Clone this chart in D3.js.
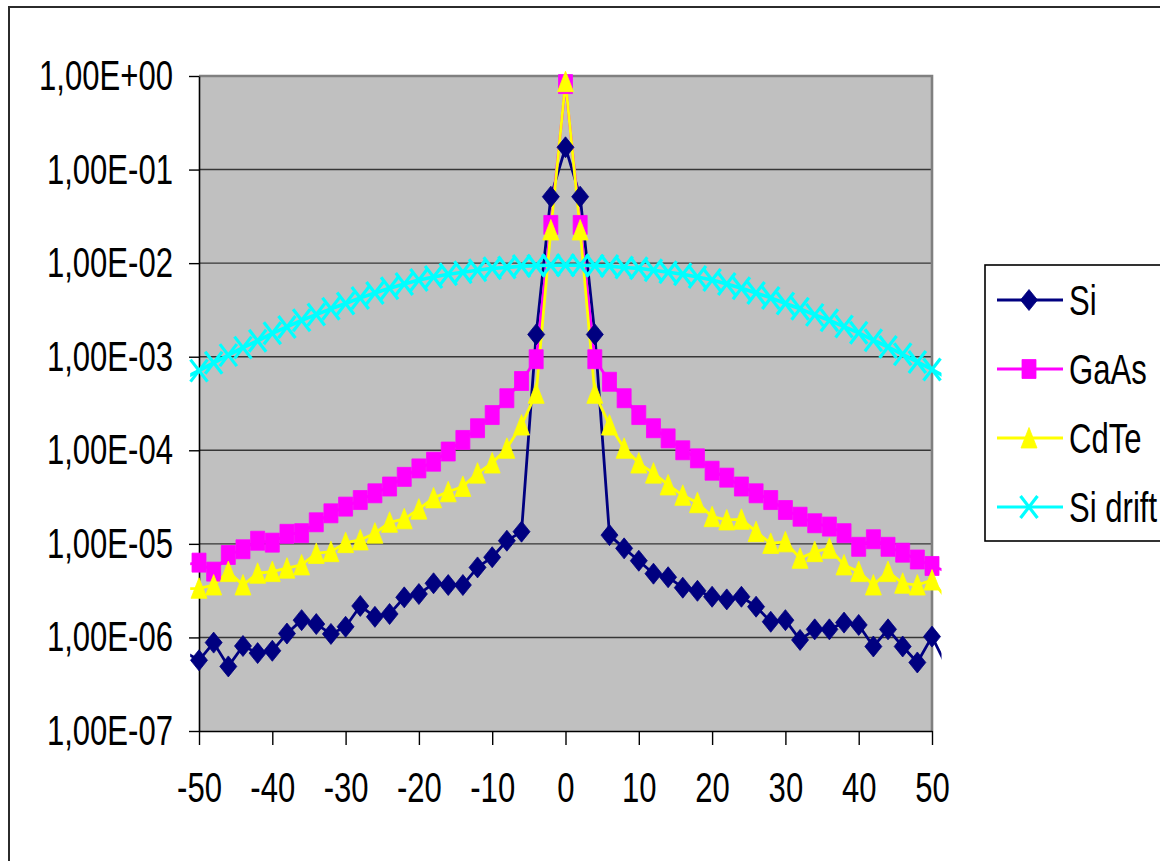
<!DOCTYPE html>
<html><head><meta charset="utf-8">
<script src="https://cdn.jsdelivr.net/npm/d3@7"></script>
<style>body{margin:0;background:#fff;overflow:hidden}</style>
</head><body><svg id="c" width="1160" height="861"></svg>
<script>
// ---- data ----
const xValues = [-52,-50,-48,-46,-44,-42,-40,-38,-36,-34,-32,-30,-28,-26,-24,-22,-20,-18,-16,-14,-12,-10,-8,-6,-4,-2,0,2,4,6,8,10,12,14,16,18,20,22,24,26,28,30,32,34,36,38,40,42,44,46,48,50,52];
const siValues = [7.0e-7,5.7e-7,8.8e-7,4.9e-7,8.1e-7,6.8e-7,7.2e-7,1.1e-6,1.53e-6,1.39e-6,1.09e-6,1.30e-6,2.17e-6,1.66e-6,1.78e-6,2.68e-6,2.91e-6,3.79e-6,3.63e-6,3.63e-6,5.6e-6,7.2e-6,1.08e-5,1.35e-5,1.73e-3,5.13e-2,1.73e-1,5.13e-2,1.73e-3,1.24e-5,8.95e-6,6.6e-6,4.8e-6,4.4e-6,3.4e-6,3.15e-6,2.72e-6,2.55e-6,2.72e-6,2.13e-6,1.47e-6,1.53e-6,9.4e-7,1.22e-6,1.22e-6,1.44e-6,1.36e-6,8.0e-7,1.22e-6,8.0e-7,5.4e-7,1.02e-6,4.9e-7];
const gaasValues = [6.0e-6,6.3e-6,5.05e-6,7.6e-6,8.75e-6,1.08e-5,1.03e-5,1.28e-5,1.3e-5,1.7e-5,2.12e-5,2.5e-5,2.94e-5,3.47e-5,4.1e-5,5.2e-5,6.4e-5,7.55e-5,9.7e-5,1.29e-4,1.72e-4,2.38e-4,3.6e-4,5.5e-4,9.4e-4,2.56e-2,0.82,2.56e-2,9.4e-4,5.4e-4,3.6e-4,2.38e-4,1.72e-4,1.34e-4,1.0e-4,8.2e-5,6.05e-5,5.1e-5,4.1e-5,3.47e-5,2.94e-5,2.3e-5,1.95e-5,1.66e-5,1.53e-5,1.3e-5,9.3e-6,1.12e-5,9.3e-6,8.05e-6,6.8e-6,5.8e-6,5.05e-6];
const cdteValues = [3.3e-6,3.35e-6,3.63e-6,5.05e-6,3.63e-6,4.85e-6,5.05e-6,5.5e-6,5.95e-6,7.9e-6,8.25e-6,1.03e-5,1.1e-5,1.3e-5,1.7e-5,1.85e-5,2.35e-5,3.1e-5,3.6e-5,4.1e-5,5.7e-5,7.3e-5,1.05e-4,1.86e-4,4.06e-4,2.26e-2,0.87,2.26e-2,4.06e-4,1.86e-4,1.05e-4,7.3e-5,5.7e-5,4.26e-5,3.3e-5,2.75e-5,1.95e-5,1.8e-5,1.83e-5,1.35e-5,1.01e-5,1.05e-5,7.0e-6,8.25e-6,8.95e-6,5.95e-6,5.05e-6,3.63e-6,5.05e-6,3.79e-6,3.63e-6,4.1e-6,2.57e-6];
const siDriftValues = [5.9e-4,7.1e-4,8.6e-4,1.04e-3,1.25e-3,1.48e-3,1.78e-3,2.08e-3,2.45e-3,2.82e-3,3.25e-3,3.7e-3,4.25e-3,4.8e-3,5.4e-3,6.0e-3,6.6e-3,7.1e-3,7.6e-3,8.0e-3,8.4e-3,8.8e-3,9.0e-3,9.3e-3,9.4e-3,9.5e-3,9.5e-3,9.5e-3,9.4e-3,9.3e-3,9.0e-3,8.8e-3,8.4e-3,8.0e-3,7.6e-3,7.1e-3,6.6e-3,6.0e-3,5.4e-3,4.8e-3,4.25e-3,3.7e-3,3.25e-3,2.8e-3,2.45e-3,2.1e-3,1.8e-3,1.5e-3,1.27e-3,1.06e-3,8.8e-4,7.3e-4,6.0e-4];
const seriesNames = ["Si","GaAs","CdTe","Si drift"];
const yTickValues = [1,1e-1,1e-2,1e-3,1e-4,1e-5,1e-6,1e-7];
const yTickLabels = ["1,00E+00","1,00E-01","1,00E-02","1,00E-03","1,00E-04","1,00E-05","1,00E-06","1,00E-07"];
const xTickValues = [-50,-40,-30,-20,-10,0,10,20,30,40,50];
const xTickLabels = ["-50","-40","-30","-20","-10","0","10","20","30","40","50"];

// ---- layout / style ----
const FONT = "'Liberation Sans', Arial, sans-serif";
const FS = 42, SX = 0.74;
const box = {left:199, top:76, right:932, bottom:731};
const styles = [
  {color:"#000080", marker:"diamond", lw:2.8},
  {color:"#FF00FF", marker:"square", lw:2.8},
  {color:"#FFFF00", marker:"triangle", lw:2.8},
  {color:"#00FFFF", marker:"x", lw:3.6}
];
const seriesValues = [siValues, gaasValues, cdteValues, siDriftValues];

const svg = d3.select("#c");
const x = d3.scaleLinear().domain([-50,50]).range([box.left, box.right]);
const y = d3.scaleLog().domain([1e-7,1]).range([box.bottom, box.top]);

// outer chart border
svg.append("rect").attr("x",9).attr("y",7).attr("width",1300).attr("height",1000)
  .attr("fill","#fff").attr("stroke","#2b2b2b").attr("stroke-width",2);

// plot area
svg.append("rect").attr("x",box.left).attr("y",box.top)
  .attr("width",box.right-box.left).attr("height",box.bottom-box.top)
  .attr("fill","#C0C0C0");

// gridlines
svg.append("g").selectAll("line").data(yTickValues.slice(0,-1)).join("line")
  .attr("x1",box.left).attr("x2",box.right)
  .attr("y1",d=>y(d)).attr("y2",d=>y(d))
  .attr("stroke","#363636").attr("stroke-width",1.4);

// plot border (top / right)
svg.append("path")
  .attr("d",`M${box.left},${box.top}H${box.right}V${box.bottom}`)
  .attr("fill","none").attr("stroke","#808080").attr("stroke-width",2.6);

// axes
function squeeze(sel){
  sel.selectAll(".tick text").each(function(){
    const t = d3.select(this);
    const xx = +t.attr("x") || 0;
    t.attr("x", null).attr("transform", `translate(${xx},0) scale(${SX},1)`);
  });
}
const yAxis = svg.append("g").attr("transform",`translate(${box.left},0)`)
  .call(d3.axisLeft(y).tickValues(yTickValues).tickFormat((d,i)=>yTickLabels[i])
        .tickSize(10).tickSizeOuter(0).tickPadding(16));
yAxis.call(squeeze);
const xAxis = svg.append("g").attr("transform",`translate(0,${box.bottom})`)
  .call(d3.axisBottom(x).tickValues(xTickValues).tickFormat((d,i)=>xTickLabels[i])
        .tickSize(14).tickSizeOuter(0).tickPadding(27));
xAxis.call(squeeze);
[yAxis,xAxis].forEach(a=>{
  a.select(".domain").attr("stroke","#000").attr("stroke-width",1.6);
  a.selectAll(".tick line").attr("stroke","#000").attr("stroke-width",1.4);
  a.selectAll(".tick text").attr("font-family",FONT).attr("font-size",FS).attr("fill","#000");
});

// clip for lines (slightly beyond plot edges)
svg.append("clipPath").attr("id","lineclip").append("rect")
  .attr("x", x(-51.2)).attr("y", 0).attr("width", x(51.3)-x(-51.2)).attr("height", 861);

const line = d3.line().x(d=>x(d.x)).y(d=>y(d.v));
const series = seriesValues.map(vals => xValues.map((xv,i)=>({x:xv, v:vals[i]})));

const lineG = svg.append("g").attr("clip-path","url(#lineclip)");
series.forEach((s,k)=>{
  lineG.append("path").datum(s).attr("d",line)
    .attr("fill","none").attr("stroke",styles[k].color)
    .attr("stroke-width",styles[k].lw).attr("stroke-linejoin","round");
});

function markerPath(type){
  if(type==="diamond") return `M0,-10.5L8.5,0L0,10.5L-8.5,0Z`;
  if(type==="square") return `M-7,-9.5H7V9.5H-7Z`;
  if(type==="triangle") return `M0,-10.5L8,10L-8,10Z`;
  return `M-8.5,-11L8.5,11M8.5,-11L-8.5,11`;
}
function drawMarker(g, type, color){
  const p = g.append("path").attr("d", markerPath(type));
  if(type==="x") p.attr("fill","none").attr("stroke",color).attr("stroke-width",3.2);
  else p.attr("fill",color).attr("stroke",color).attr("stroke-width",0.8);
}
series.forEach((s,k)=>{
  const g = svg.append("g");
  s.filter(d=>d.x>=-50 && d.x<=50).forEach(d=>{
    const mg = g.append("g").attr("transform",`translate(${x(d.x)},${y(d.v)})`);
    drawMarker(mg, styles[k].marker, styles[k].color);
  });
});

// legend
const lg = svg.append("g");
lg.append("rect").attr("x",985).attr("y",265).attr("width",300).attr("height",276)
  .attr("fill","#fff").attr("stroke","#000").attr("stroke-width",1.6);
const legY = d3.scalePoint().domain(seriesNames).range([300,507]);
seriesNames.forEach((name,k)=>{
  const yy = legY(name);
  lg.append("line").attr("x1",997).attr("x2",1063).attr("y1",yy).attr("y2",yy)
    .attr("stroke",styles[k].color).attr("stroke-width",3);
  const mg = lg.append("g").attr("transform",`translate(1029,${yy})`);
  drawMarker(mg, styles[k].marker, styles[k].color);
  lg.append("text").attr("transform",`translate(1069,${yy}) scale(${SX},1)`)
    .attr("dy","0.35em").attr("font-family",FONT).attr("font-size",FS).attr("fill","#000")
    .text(name);
});
</script></body></html>
